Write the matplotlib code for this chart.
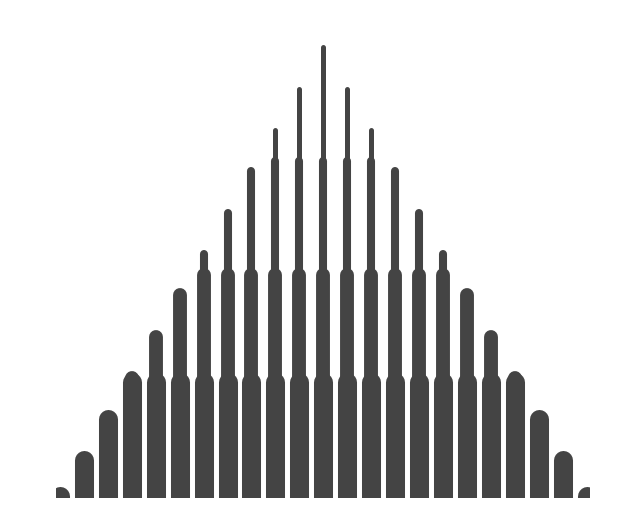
import matplotlib
matplotlib.use("Agg")
import matplotlib.pyplot as plt
import numpy as np

# Data
positions = list(range(23))
values = [0.13, 1, 2, 3, 4, 5, 6, 7, 8, 9, 10, 11, 10, 9, 8, 7, 6, 5, 4, 3, 2, 1, 0.13]
layer_clips = [2.9, 5.5, 8.25, 11.0]
layer_widths = [13.7, 10.0, 5.8, 3.6]  # points
color = "#444444"

W, H = 619, 528
fig = plt.figure(figsize=(W / 100, H / 100), dpi=100)
ax = fig.add_axes([56 / W, 30 / H, 534 / W, 478 / H])

for clip, lw in zip(layer_clips, layer_widths):
    for x, v in zip(positions, values):
        top = min(v, clip)
        ax.plot([x, x], [-1, top], color=color, lw=lw,
                solid_capstyle="round", solid_joinstyle="round")

px_per_unit = 41.3
ybot = 0.09
ax.set_ylim(ybot, ybot + 478 / px_per_unit)
ax.set_xlim(-0.154, 22.12)
ax.axis("off")

fig.savefig("out.png", dpi=100, facecolor="white")
